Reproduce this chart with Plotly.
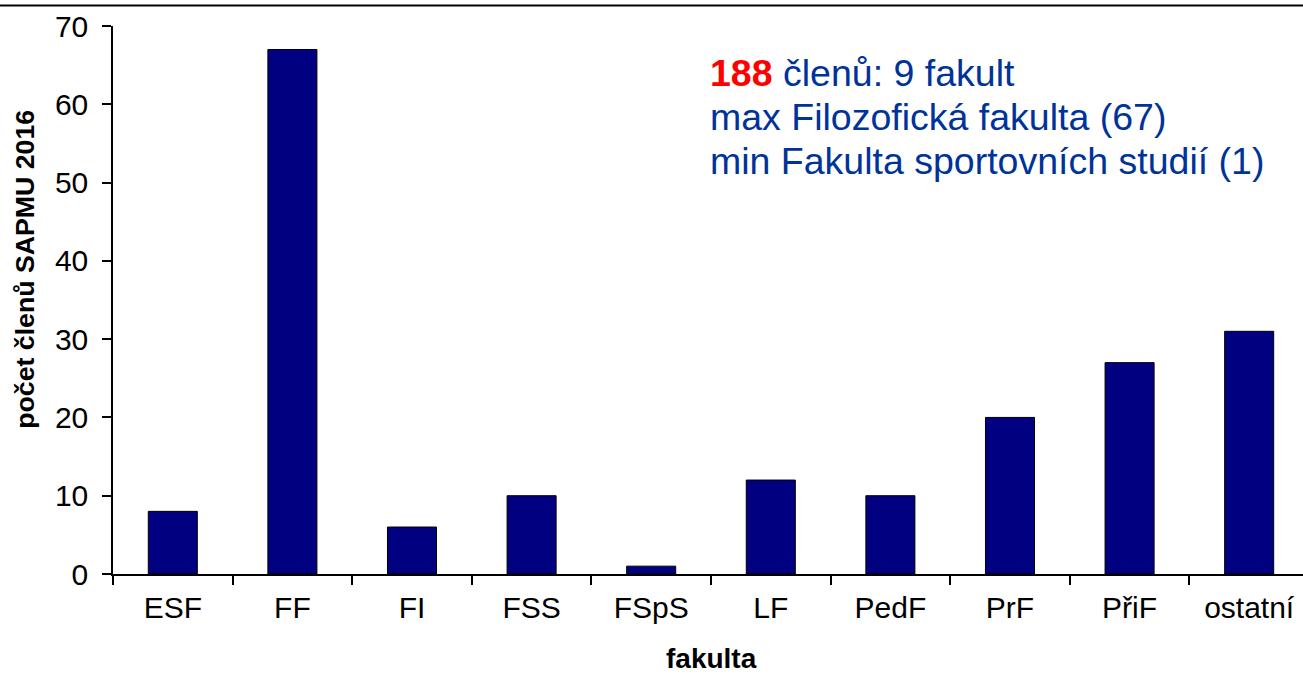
import plotly.graph_objects as go

categories = ["ESF", "FF", "FI", "FSS", "FSpS", "LF", "PedF", "PrF", "PřiF", "ostatní"]
members = [8, 67, 6, 10, 1, 12, 10, 20, 27, 31]
y_ticks = [0, 10, 20, 30, 40, 50, 60, 70]

W, H = 1303, 676
L, R, T, B = 113, 0, 26, 101.5
pw = W - L - R
ph = H - T - B

def px(x):
    return (x - L) / pw

def py(y):
    return (H - B - y) / ph

fig = go.Figure(go.Bar(
    x=categories, y=members, width=0.41,
    marker=dict(color="#000080", line=dict(color="black", width=1)),
))

fig.update_layout(
    width=W, height=H,
    margin=dict(l=L, r=R, t=T, b=B),
    plot_bgcolor="white", paper_bgcolor="white",
    showlegend=False,
    font=dict(family="Liberation Sans, Arial", color="black"),
    xaxis=dict(
        range=[-0.5, 9.45], showline=True, linecolor="black", linewidth=1.5,
        ticks="outside", tickson="boundaries", ticklen=9, tickcolor="black", tickwidth=1.5,
        tickfont=dict(size=30, color="black"), showgrid=False, zeroline=False,
        ticklabelstandoff=6,
    ),
    yaxis=dict(
        range=[0, 70], tickvals=y_ticks, showline=True, linecolor="black", linewidth=1.5,
        ticks="outside", ticklen=9, tickcolor="black", tickwidth=1.5,
        tickfont=dict(size=30, color="black"), showgrid=False, zeroline=False,
        ticklabelstandoff=8,
    ),
    shapes=[dict(type="line", xref="paper", yref="paper",
                 x0=px(0), x1=px(W), y0=py(5.5), y1=py(5.5),
                 line=dict(color="black", width=2))],
)

fig.add_annotation(text="<b>počet členů SAPMU 2016</b>", textangle=-90,
                   xref="paper", yref="paper", x=px(25), y=py(270),
                   xanchor="center", yanchor="middle", showarrow=False,
                   font=dict(size=26.7, color="black"))
fig.add_annotation(text="<b>fakulta</b>",
                   xref="paper", yref="paper", x=px(711.7), y=py(659),
                   xanchor="center", yanchor="middle", showarrow=False,
                   font=dict(size=28, color="black"))

blue = "#003399"
lines = [
    ("<span style='color:#ff0000'><b>188</b></span> členů: 9 fakult", 73),
    ("max Filozofická fakulta (67)", 117),
    ("min Fakulta sportovních studií (1)", 161.5),
]
for txt, yc in lines:
    fig.add_annotation(text=txt, xref="paper", yref="paper", x=px(709), y=py(yc),
                       xanchor="left", yanchor="middle", showarrow=False,
                       borderpad=0, font=dict(size=37.5, color=blue))

fig.write_html("out.html", config={"displayModeBar": False},
               post_script="document.body.style.margin='0';")
